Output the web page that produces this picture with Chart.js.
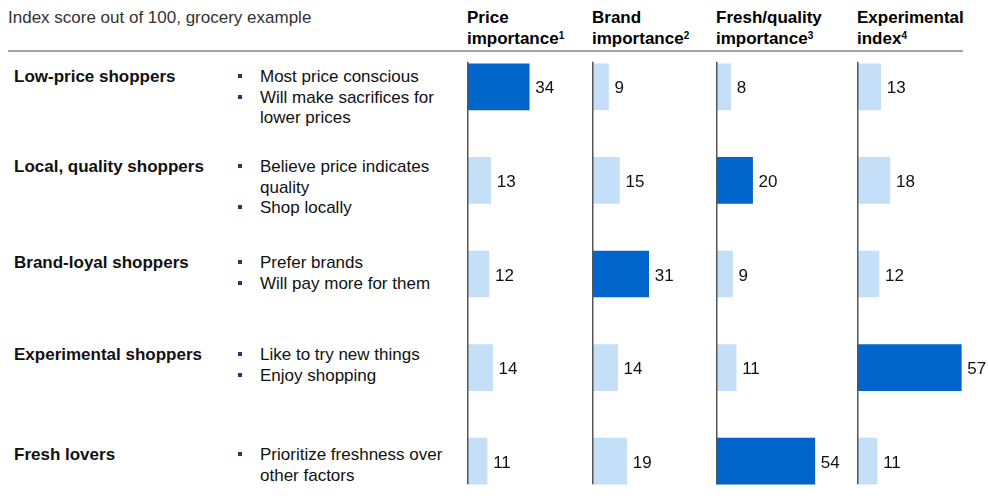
<!DOCTYPE html>
<html>
<head>
<meta charset="utf-8">
<script src="https://cdn.jsdelivr.net/npm/chart.js@4"></script>
<style>
  html, body { margin: 0; padding: 0; background: #fff; overflow: hidden; }
  body { width: 988px; height: 499px; position: relative; font-family: "Liberation Sans", Arial, sans-serif; color: #111; }
  .abs { position: absolute; white-space: nowrap; }
  .title { left: 8px; top: 8px; font-size: 17px; color: #333; }
  .head { top: 7px; font-size: 17px; font-weight: bold; line-height: 21px; color: #000; }
  .head sup { font-size: 10px; vertical-align: 5px; line-height: 0; }
  .rule { left: 8px; top: 50px; width: 955px; height: 2px; background: #a3a3a3; }
  .row { left: 14px; font-size: 17px; font-weight: bold; line-height: 20px; color: #111; }
  .bul { left: 238px; font-size: 17px; line-height: 20.5px; color: #111; }
  .bul div { position: relative; padding-left: 22px; }
  .bul div.b::before { content: ""; position: absolute; left: 0; top: 7px; width: 4px; height: 4px; background: #1f3a78; }
  .col { position: absolute; top: 40px; }
</style>
</head>
<body>
<div class="abs title">Index score out of 100, grocery example</div>
<div class="abs rule"></div>
<div id="labels"></div>

<script>
const categories = ['Low-price shoppers', 'Local, quality shoppers', 'Brand-loyal shoppers', 'Experimental shoppers', 'Fresh lovers'];
const bullets = [
  [['Most price conscious'], ['Will make sacrifices for', 'lower prices']],
  [['Believe price indicates', 'quality'], ['Shop locally']],
  [['Prefer brands'], ['Will pay more for them']],
  [['Like to try new things'], ['Enjoy shopping']],
  [['Prioritize freshness over', 'other factors']]
];
const columnTitles = [['Price', 'importance', '1'], ['Brand', 'importance', '2'], ['Fresh/quality', 'importance', '3'], ['Experimental', 'index', '4']];
const priceImportance = [34, 13, 12, 14, 11];
const brandImportance = [9, 15, 31, 14, 19];
const freshImportance = [8, 20, 9, 11, 54];
const experimentalIndex = [13, 18, 12, 57, 11];
const series = [priceImportance, brandImportance, freshImportance, experimentalIndex];

// layout
const colLeft = [467, 592, 716, 857];
const colWidth = [125, 124, 141, 131];
const pxPerUnit = 1.83;
const rowTops = [67, 157, 253, 345, 445];
const DARK = '#0066cc', LIGHT = '#c6dff8';

const labels = document.getElementById('labels');
categories.forEach((c, i) => {
  const d = document.createElement('div');
  d.className = 'abs row';
  d.style.top = rowTops[i] + 'px';
  d.textContent = c;
  labels.appendChild(d);
  const b = document.createElement('div');
  b.className = 'abs bul';
  b.style.top = rowTops[i] + 'px';
  bullets[i].forEach(lines => {
    lines.forEach((t, k) => {
      const l = document.createElement('div');
      if (k === 0) l.className = 'b';
      l.textContent = t;
      b.appendChild(l);
    });
  });
  labels.appendChild(b);
});

columnTitles.forEach((t, j) => {
  const h = document.createElement('div');
  h.className = 'abs head';
  h.style.left = colLeft[j] + 'px';
  h.innerHTML = t[0] + '<br>' + t[1] + '<sup>' + t[2] + '</sup>';
  labels.appendChild(h);
});

// highest score in each row gets the dark colour
const rowMax = categories.map((_, i) => Math.max(...series.map(s => s[i])));

const valuePlugin = {
  id: 'values',
  afterDatasetsDraw(chart) {
    const ctx = chart.ctx;
    const meta = chart.getDatasetMeta(0);
    const data = chart.data.datasets[0].data;
    ctx.save();
    ctx.font = '17px "Liberation Sans", Arial, sans-serif';
    ctx.fillStyle = '#111';
    ctx.textBaseline = 'middle';
    meta.data.forEach((bar, i) => {
      ctx.fillText(String(data[i]), bar.x + 6, bar.y + 2);
    });
    // axis line
    const first = meta.data[0], last = meta.data[meta.data.length - 1];
    ctx.strokeStyle = '#555';
    ctx.lineWidth = 1.5;
    ctx.beginPath();
    ctx.moveTo(chart.chartArea.left + 0.75, first.y - first.height / 2 - 2);
    ctx.lineTo(chart.chartArea.left + 0.75, last.y + last.height / 2);
    ctx.stroke();
    ctx.restore();
  }
};

series.forEach((vals, j) => {
  const wrap = document.createElement('div');
  wrap.className = 'col';
  wrap.style.left = colLeft[j] + 'px';
  const cv = document.createElement('canvas');
  cv.width = colWidth[j];
  cv.height = 468;
  wrap.appendChild(cv);
  document.body.appendChild(wrap);

  new Chart(cv.getContext('2d'), {
    type: 'bar',
    data: {
      labels: categories,
      datasets: [{
        data: vals,
        backgroundColor: vals.map((v, i) => v === rowMax[i] ? DARK : LIGHT),
        borderWidth: 0,
        barThickness: 46
      }]
    },
    options: {
      indexAxis: 'y',
      responsive: false,
      animation: false,
      layout: { padding: 0 },
      plugins: { legend: { display: false }, tooltip: { enabled: false } },
      scales: {
        x: { display: false, min: 0, max: colWidth[j] / pxPerUnit },
        y: { display: false }
      }
    },
    plugins: [valuePlugin]
  });
});
</script>
</body>
</html>
